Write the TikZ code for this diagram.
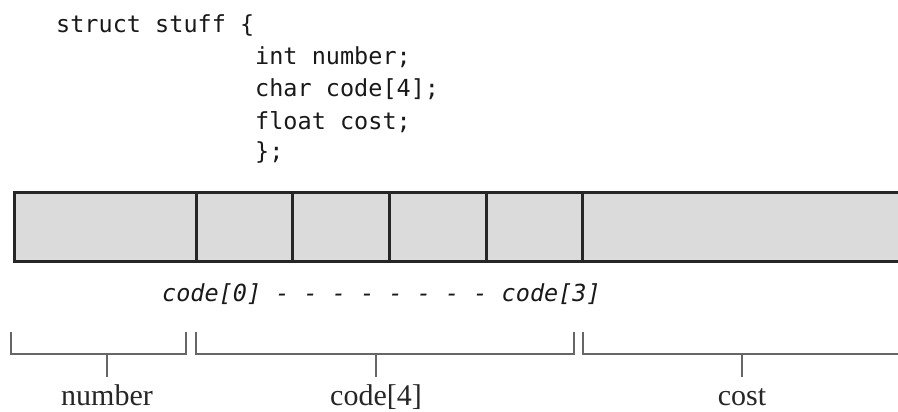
\documentclass[tikz,border=0pt]{standalone}
\usepackage{fontspec}
\setmainfont{Liberation Serif}
\setmonofont{DejaVu Sans Mono}
\begin{document}
\begin{tikzpicture}[x=1pt,y=-1pt,
  code/.style={font=\fontsize{23.5}{28}\selectfont\ttfamily, text=black!90, inner sep=0pt, anchor=base west},
  icode/.style={font=\fontsize{23.5}{28}\selectfont\ttfamily\itshape, text=black!90, inner sep=0pt, anchor=base west},
  lbl/.style={font=\fontsize{30}{34}\selectfont, text=black!85, inner sep=0pt, anchor=base},
  cell/.style={draw=black!85, line width=3pt, fill=black!14},
  brace/.style={draw=black!60, line width=1.4pt}
]
\useasboundingbox (0,0) rectangle (898,412);
% code text
\node[code] (l1) at (56,33) {struct stuff \{};
\node[code] (l2) at (255,65) {int number;};
\node[code] (l3) at (255,97) {char code[4];};
\node[code] (l4) at (255,129) {float cost;};
\node[code] (l5) at (255,160) {\};};
% memory cells
\path[cell] (14,192) rectangle (196,261);
\path[cell] (196,192) rectangle (292,261);
\path[cell] (292,192) rectangle (389,261);
\path[cell] (389,192) rectangle (486,261);
\path[cell] (486,192) rectangle (582,261);
\path[cell] (582,192) rectangle (940,261);
% element labels
\node[icode] (c0) at (162,301) {code[0] - - - - - - - - code[3]};
% brackets
\coordinate (n1) at (11,332); \coordinate (n2) at (186,332);
\coordinate (k1) at (196,332); \coordinate (k2) at (574,332);
\coordinate (s1) at (583,332); \coordinate (s2) at (930,332);
\draw[brace] (n1) -- ++(0,22) -| (n2);
\draw[brace] (k1) -- ++(0,22) -| (k2);
\draw[brace] (s1) -- ++(0,22) -- ++(347,0);
\node[lbl] (num) at (107,405) {number};
\node[lbl] (cod) at (376,405) {code[4]};
\node[lbl] (cst) at (742,405) {cost};
\draw[brace] (107,354) -- (107,377);
\draw[brace] (376,354) -- (376,377);
\draw[brace] (742,354) -- (742,377);
\end{tikzpicture}
\end{document}
